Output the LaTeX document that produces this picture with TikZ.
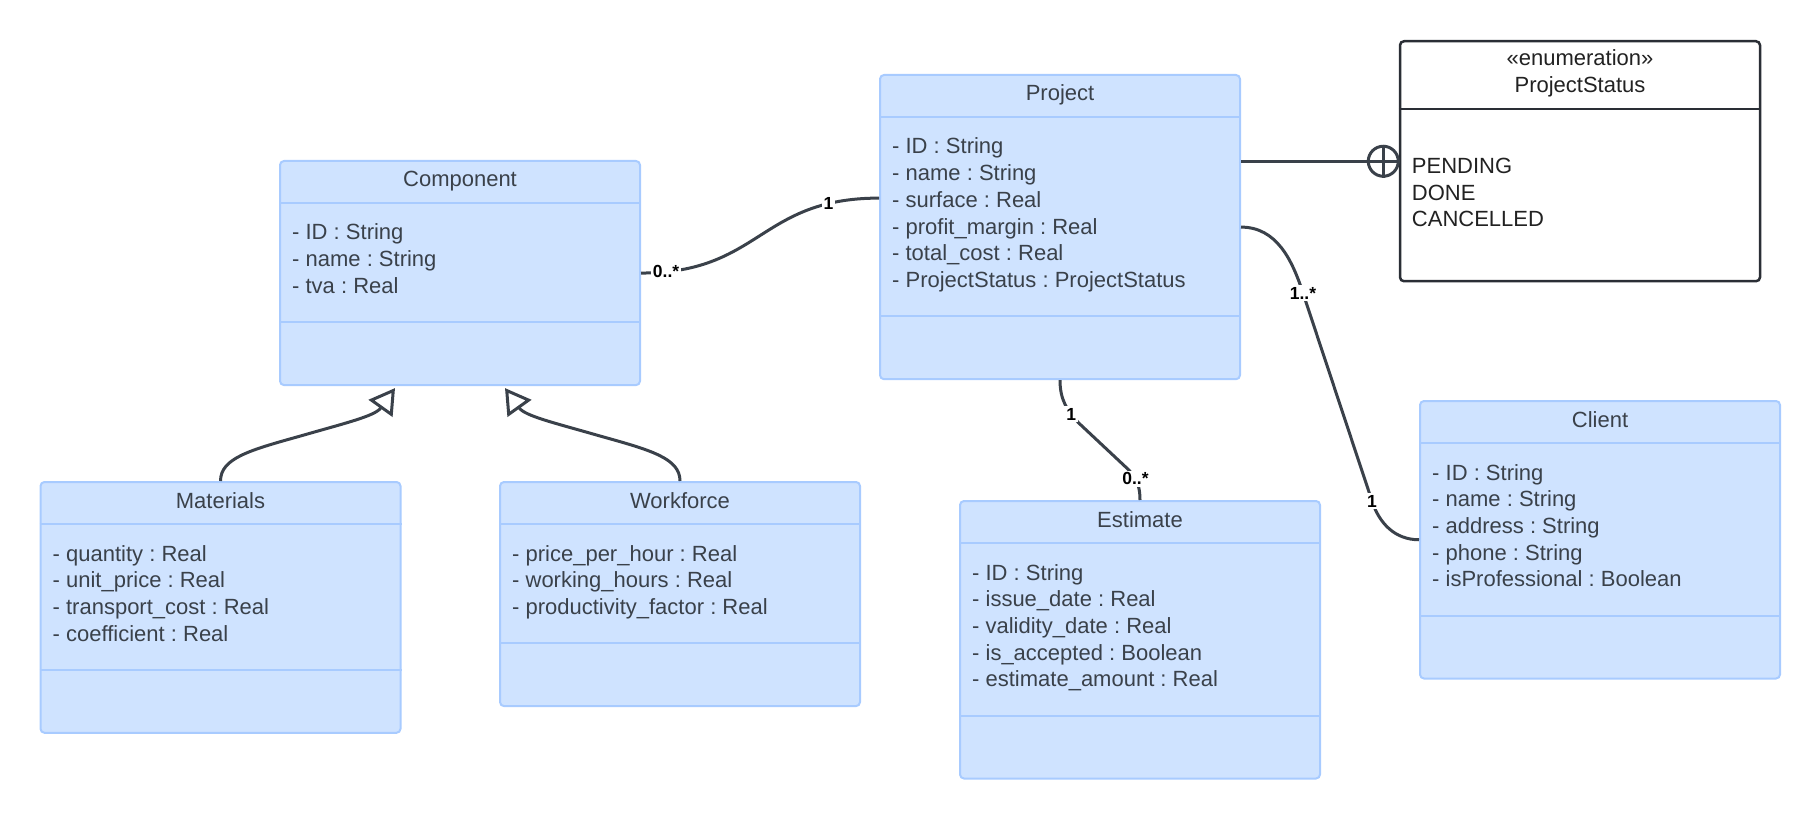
\documentclass[tikz,border=0pt]{standalone}
\usepackage{fontspec}
\setmainfont{Liberation Sans}
\usetikzlibrary{arrows.meta}

\definecolor{classfill}{HTML}{CFE3FF}
\definecolor{classedge}{HTML}{A8CBFF}
\definecolor{classtext}{HTML}{3A414A}
\definecolor{linkcolor}{HTML}{3A414A}
\definecolor{enumedge}{HTML}{2A2E35}
\definecolor{enumtextcolor}{HTML}{222222}

\begin{document}
\begin{tikzpicture}[x=1pt,y=1pt]
  \tikzset{classbox/.style={draw=classedge, fill=classfill, line width=2pt, rounded corners=4pt,
      minimum width=360pt, inner sep=0pt, anchor=north},
    enumbox/.style={draw=enumedge, fill=white, line width=2.5pt, rounded corners=4pt,
      minimum width=360pt, minimum height=240pt, inner sep=0pt, anchor=north},
    divider/.style={draw=classedge, line width=2pt},
    enumdivider/.style={draw=enumedge, line width=2.5pt},
    classtitle/.style={inner sep=0pt, text height=16pt, text depth=0pt, text=classtext,
      font=\fontsize{22pt}{26pt}\selectfont\frenchspacing},
    attrline/.style={classtitle, anchor=west},
    enumtext/.style={classtitle, text=enumtextcolor},
    assoc/.style={draw=linkcolor, line width=3pt},
    genline/.style={assoc, -{Triangle[open, length=25pt, width=29pt]}},
    multlabel/.style={fill=white, inner sep=2pt, text=black,
      font=\bfseries\fontsize{17.5pt}{19pt}\selectfont},
    nestcircle/.style={circle, draw=linkcolor, line width=3pt, minimum size=30pt, inner sep=0pt}}
  \useasboundingbox (0,0) rectangle (1820,-818);

  \node[classbox, minimum height=224.1pt] (comp) at (460,-160) {};
  \node[classtitle] (comp-t) at ([yshift=-19pt]comp.north) {Component};
  \draw[divider] ([yshift=-43pt]comp.north west) -- ([yshift=-43pt]comp.north east);
  \draw[divider] ([yshift=64pt]comp.south west) -- ([yshift=64pt]comp.south east);
  \foreach \a [count=\i] in {- ID : String, - name : String, - tva : Real}
    \node[attrline] (comp-\i) at ([xshift=13pt,yshift={-45.3pt-\i*26.7pt}]comp.north west) {\a};

  \node[classbox, minimum height=304.2pt] (proj) at (1060,-74) {};
  \node[classtitle] (proj-t) at ([yshift=-19pt]proj.north) {Project};
  \draw[divider] ([yshift=-43pt]proj.north west) -- ([yshift=-43pt]proj.north east);
  \draw[divider] ([yshift=64pt]proj.south west) -- ([yshift=64pt]proj.south east);
  \foreach \a [count=\i] in {- ID : String, - name : String, - surface : Real, - profit\_margin : Real,
      - total\_cost : Real, - ProjectStatus : ProjectStatus}
    \node[attrline] (proj-\i) at ([xshift=13pt,yshift={-45.3pt-\i*26.7pt}]proj.north west) {\a};

  \node[classbox, minimum height=250.8pt] (mat) at (220.5,-481) {};
  \node[classtitle] (mat-t) at ([yshift=-19pt]mat.north) {Materials};
  \draw[divider] ([yshift=-43pt]mat.north west) -- ([yshift=-43pt]mat.north east);
  \draw[divider] ([yshift=64pt]mat.south west) -- ([yshift=64pt]mat.south east);
  \foreach \a [count=\i] in {- quantity : Real, - unit\_price : Real, - transport\_cost : Real, - coefficient : Real}
    \node[attrline] (mat-\i) at ([xshift=13pt,yshift={-45.3pt-\i*26.7pt}]mat.north west) {\a};

  \node[classbox, minimum height=224.1pt] (work) at (680,-481) {};
  \node[classtitle] (work-t) at ([yshift=-19pt]work.north) {Workforce};
  \draw[divider] ([yshift=-43pt]work.north west) -- ([yshift=-43pt]work.north east);
  \draw[divider] ([yshift=64pt]work.south west) -- ([yshift=64pt]work.south east);
  \foreach \a [count=\i] in {- price\_per\_hour : Real, - working\_hours : Real, - productivity\_factor : Real}
    \node[attrline] (work-\i) at ([xshift=13pt,yshift={-45.3pt-\i*26.7pt}]work.north west) {\a};

  \node[classbox, minimum height=277.5pt] (est) at (1140,-500) {};
  \node[classtitle] (est-t) at ([yshift=-19pt]est.north) {Estimate};
  \draw[divider] ([yshift=-43pt]est.north west) -- ([yshift=-43pt]est.north east);
  \draw[divider] ([yshift=64pt]est.south west) -- ([yshift=64pt]est.south east);
  \foreach \a [count=\i] in {- ID : String, - issue\_date : Real, - validity\_date : Real,
      - is\_accepted : Boolean, - estimate\_amount : Real}
    \node[attrline] (est-\i) at ([xshift=13pt,yshift={-45.3pt-\i*26.7pt}]est.north west) {\a};

  \node[classbox, minimum height=277.5pt] (client) at (1600,-400) {};
  \node[classtitle] (client-t) at ([yshift=-19pt]client.north) {Client};
  \draw[divider] ([yshift=-43pt]client.north west) -- ([yshift=-43pt]client.north east);
  \draw[divider] ([yshift=64pt]client.south west) -- ([yshift=64pt]client.south east);
  \foreach \a [count=\i] in {- ID : String, - name : String, - address : String, - phone : String,
      - isProfessional : Boolean}
    \node[attrline] (client-\i) at ([xshift=13pt,yshift={-45.3pt-\i*26.7pt}]client.north west) {\a};

  \node[enumbox] (enum) at (1580,-40) {};
  \node[enumtext] (enum-s) at ([yshift=-18pt]enum.north) {«enumeration»};
  \node[enumtext] (enum-n) at ([yshift=-45pt]enum.north) {ProjectStatus};
  \draw[enumdivider] ([yshift=-69pt]enum.north west) -- ([yshift=-69pt]enum.north east);
  \foreach \v [count=\i] in {PENDING, DONE, CANCELLED}
    \node[enumtext, anchor=west] (enum-\i) at ([xshift=13pt,yshift={-99.5pt-\i*26.5pt}]enum.north west) {\v};

  % associations
  \draw[assoc] (comp.east) .. controls +(120,0) and +(-120,0) ..
    node[multlabel, pos=0.075] (m1) {0..*} node[multlabel, pos=0.835] (m2) {1} ([yshift=29pt]proj.west);
  \node[nestcircle] (nest) at ([xshift=-15.5pt]enum.west) {};
  \draw[assoc] (proj.east |- nest.center) -- (nest.east);
  \draw[assoc] (nest.north) -- (nest.south);
  \draw[assoc] (proj.south) to[out=-90,in=135] node[multlabel, pos=0.75] (m3) {1} ++(20,-44)
    -- ++(48,-45) to[out=-45,in=90] node[multlabel, pos=0.35] (m4) {0..*} (est.north);
  \draw[assoc] (proj.east) to[out=0,in=108] ++(62,-66) node[multlabel] (m5) {1..*}
    -- ++(69,-208) node[multlabel] (m6) {1} to[out=-72,in=180] (client.west);

  % generalizations
  \draw[genline] (mat.north) .. controls +(0,23) and +(-50,-14) .. ++(80,45)
    .. controls +(45,13) and +(-20,-28) .. ([xshift=-65pt,yshift=-2pt]comp.south);
  \draw[genline] (work.north) .. controls +(0,23) and +(50,-14) .. ++(-80,45)
    .. controls +(-45,13) and +(20,-28) .. ([xshift=45pt,yshift=-2pt]comp.south);
\end{tikzpicture}
\end{document}
